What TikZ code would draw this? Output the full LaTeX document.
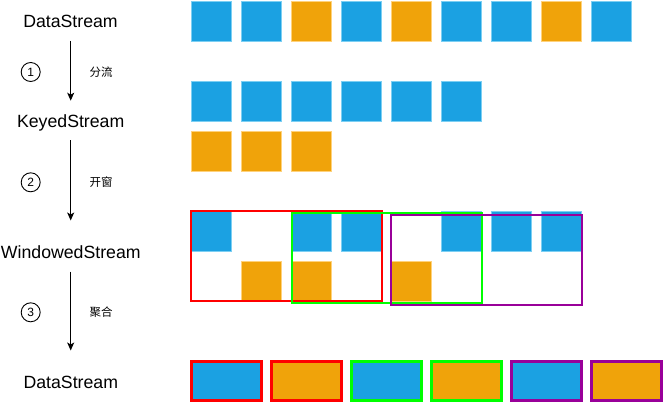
\documentclass[tikz,border=0pt]{standalone}
\usepackage{fontspec}
\setmainfont{Liberation Sans}
\newfontfamily\cjk{Noto Sans CJK SC}
\usetikzlibrary{arrows.meta}
\definecolor{bfill}{HTML}{1BA1E2}
\definecolor{bline}{HTML}{7CCFF3}
\definecolor{ofill}{HTML}{F0A30A}
\definecolor{oline}{HTML}{FFD27C}
\definecolor{wred}{HTML}{FF0000}
\definecolor{wgreen}{HTML}{00FF00}
\definecolor{wpurple}{HTML}{990099}
\tikzset{
  sq/.style={minimum width=40pt,minimum height=40pt,inner sep=0pt,line width=1pt},
  bsq/.style={sq,fill=bfill,draw=bline},
  osq/.style={sq,fill=ofill,draw=oline},
  stream/.style={anchor=base,inner sep=0pt,font=\fontsize{17.7pt}{20pt}\selectfont},
  lbl/.style={inner sep=0pt,font=\cjk\fontsize{11.5pt}{13pt}\selectfont},
  num/.style={circle,draw=black,line width=0.9pt,minimum size=19pt,inner sep=0pt,font=\fontsize{12pt}{14pt}\selectfont},
  arr/.style={line width=1pt,-{Stealth[length=8pt,width=7pt,inset=2pt]}},
  win/.style={line width=2pt,inner sep=0pt,fill=none},
  res/.style={line width=3pt,inner sep=0pt,minimum width=69.7pt,minimum height=39.3pt},
}
\begin{document}
\begin{tikzpicture}[x=1pt,y=-1pt]
\useasboundingbox (0,0) rectangle (663,403);
% left labels
\node[stream] (ds1) at (70.5,28) {DataStream};
\node[stream] (ks) at (70.7,128) {KeyedStream};
\node[stream] (ws) at (70.8,258.3) {WindowedStream};
\node[stream] (ds2) at (70.8,388.3) {DataStream};
\coordinate (a1s) at (70.7,41);
\coordinate (a1e) at (70.7,100.7);
\coordinate (a2s) at (70.7,140.5);
\coordinate (a2e) at (70.7,220.5);
\coordinate (a3s) at (70.7,271.5);
\coordinate (a3e) at (70.7,350.5);
\draw[arr] (a1s) -- (a1e);
\draw[arr] (a2s) -- (a2e);
\draw[arr] (a3s) -- (a3e);
\node[num] (n1) at (30.7,72) {1};
\node[num] (n2) at (30.7,182.3) {2};
\node[num] (n3) at (30.7,312.3) {3};
\node[lbl] (l1) at (101,72) {分流};
\node[lbl] (l2) at (101,182) {开窗};
\node[lbl] (l3) at (101,312) {聚合};
% top row
\foreach \c [count=\i from 0] in {b,b,o,b,o,b,b,o,b}{
  \node[\c sq] (t\i) at (211.5+50*\i,21.3) {};
}
% keyed rows
\foreach \i in {0,...,5}{ \node[bsq] (kb\i) at (211.5+50*\i,101.3) {}; }
\foreach \i in {0,...,2}{ \node[osq] (ko\i) at (211.5+50*\i,151.3) {}; }
% windowed
\foreach \i in {0,2,3,5,6,7}{ \node[bsq] (wb\i) at (211.5+50*\i,231.7) {}; }
\foreach \i in {1,2,4}{ \node[osq] (wo\i) at (211.5+50*\i,281.7) {}; }
\node[win,draw=wred,minimum width=190.7pt,minimum height=90pt] (w1) at (286.35,256) {};
\node[win,draw=wgreen,minimum width=190pt,minimum height=90pt] (w2) at (387.3,258.3) {};
\node[win,draw=wpurple,minimum width=190.7pt,minimum height=90.3pt] (w3) at (486.35,260.15) {};
% results
\node[res,fill=bfill,draw=wred] (r0) at (226.5,381.2) {};
\node[res,fill=ofill,draw=wred] (r1) at (306.5,381.2) {};
\node[res,fill=bfill,draw=wgreen] (r2) at (386.5,381.2) {};
\node[res,fill=ofill,draw=wgreen] (r3) at (466.5,381.2) {};
\node[res,fill=bfill,draw=wpurple] (r4) at (546.5,381.2) {};
\node[res,fill=ofill,draw=wpurple] (r5) at (626.5,381.2) {};
\end{tikzpicture}
\end{document}
